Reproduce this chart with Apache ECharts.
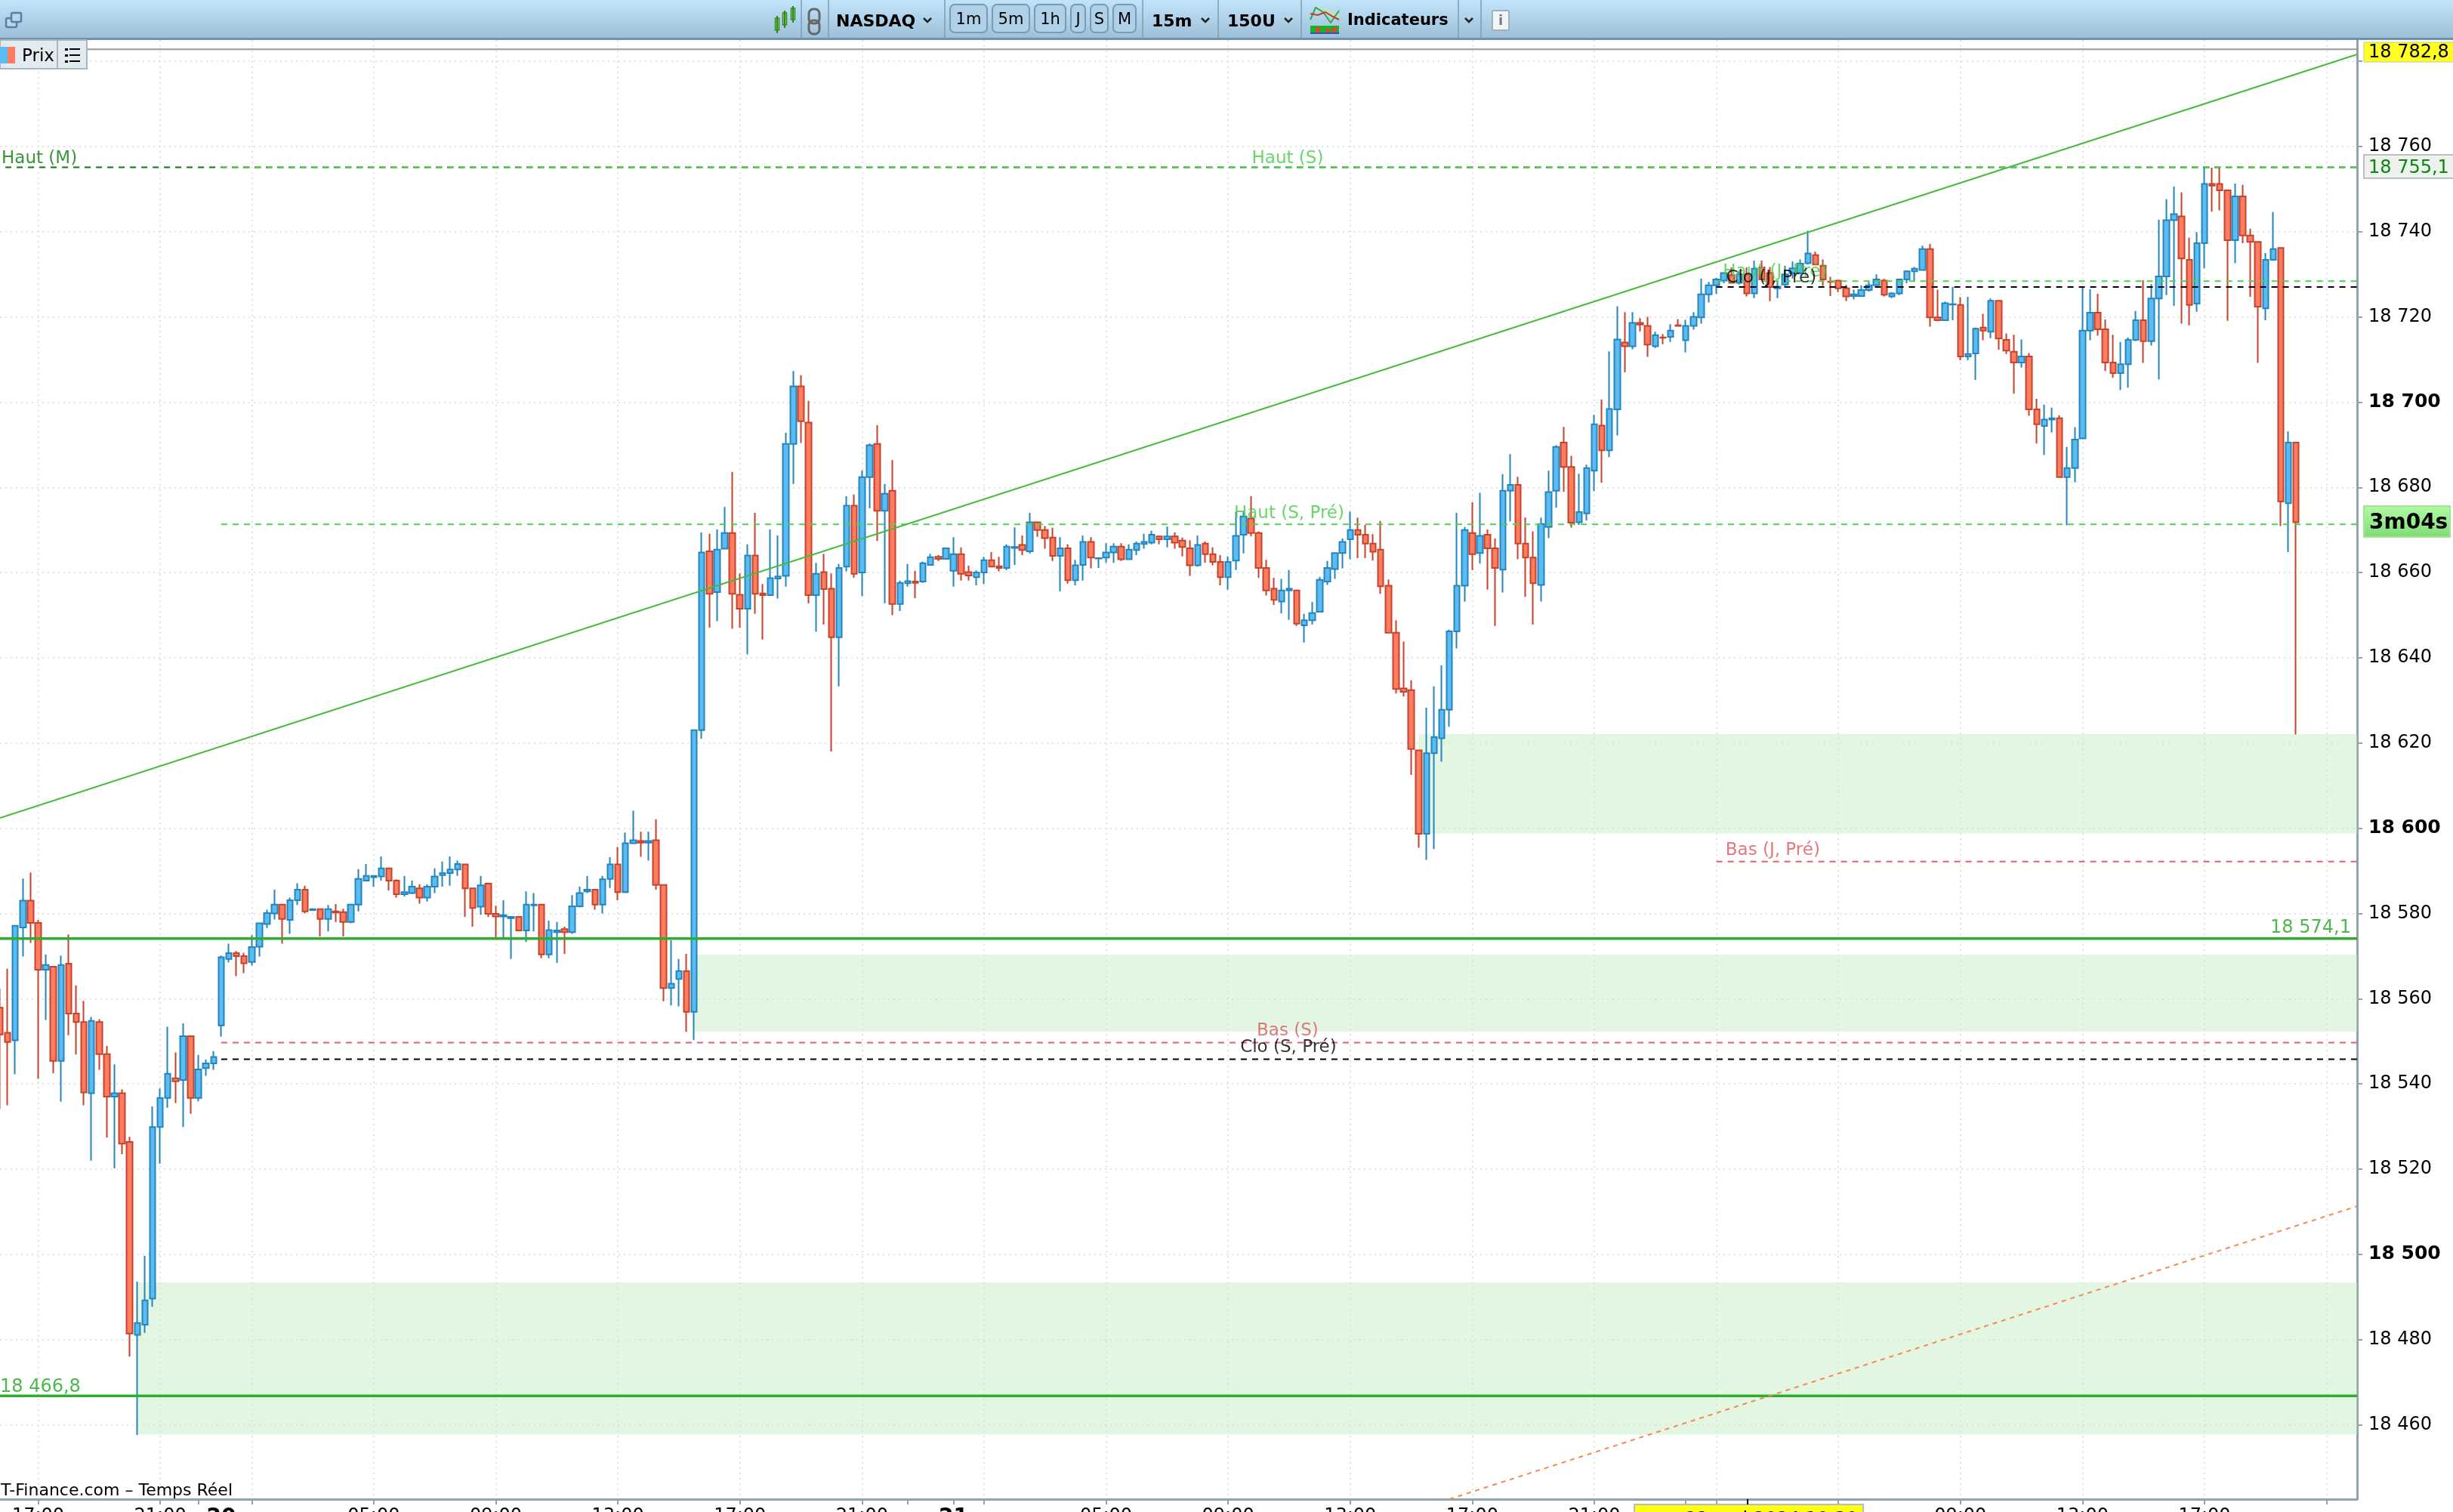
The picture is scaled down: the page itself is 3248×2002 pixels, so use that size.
<!DOCTYPE html>
<html><head><meta charset="utf-8">
<style>html,body{margin:0;padding:0;background:#fff;overflow:hidden}#c{width:3248px;height:2002px}</style>
<script src="https://cdn.jsdelivr.net/npm/echarts@6/dist/echarts.min.js"></script>
</head><body><div id="c"></div>
<script>
// each candle: [open, close, low, high]; x position is the index in the concatenated list
const candles0 = [
[18557.9,18551.6,18534.1,18562.4],[18552.0,18549.8,18535.0,18567.0],[18550.2,18577.1,18542.3,18577.1],[18576.7,18583.0,18569.9,18588.2],[18583.0,18577.8,18573.1,18589.6],
[18577.8,18566.8,18541.2,18578.5],[18566.8,18567.9,18555.0,18570.4],[18567.5,18545.4,18542.5,18567.5],[18545.4,18567.9,18535.8,18570.1],[18568.2,18556.5,18551.4,18575.1],
[18556.5,18554.5,18546.9,18563.1],[18554.5,18538.0,18535.0,18559.5],[18537.8,18554.8,18522.0,18555.7],[18554.5,18547.0,18543.3,18555.2],[18547.0,18537.0,18527.4,18548.9],
[18537.0,18537.8,18520.2,18544.6],[18537.8,18526.0,18523.5,18538.7],[18526.4,18481.4,18476.0,18527.6],[18481.1,18483.9,18457.6,18493.6],[18483.5,18489.2,18481.6,18499.6],
[18489.6,18529.9,18487.7,18534.7],[18529.9,18536.7,18521.3,18538.9],[18536.7,18542.4,18534.4,18553.4],[18541.3,18540.6,18535.5,18547.4],[18540.9,18551.2,18529.9,18554.2],
[18551.2,18536.7,18533.0,18551.2],[18536.7,18543.4,18535.9,18546.8],[18543.7,18544.8,18541.9,18545.7],[18544.8,18546.3,18543.3,18547.7]];
const candles1 = [
[18553.7,18569.7,18551.1,18570.1],[18569.3,18570.7,18568.5,18572.9],[18570.7,18570.0,18565.3,18571.2],[18570.0,18568.3,18566.0,18570.8],[18568.6,18572.1,18567.8,18574.9],
[18572.2,18577.7,18569.9,18577.7],[18577.5,18580.1,18576.6,18580.9],[18580.0,18582.1,18578.6,18585.6],[18582.1,18578.7,18572.9,18582.1],[18578.5,18583.1,18575.2,18583.7],
[18583.1,18585.6,18582.0,18587.1],[18585.6,18580.5,18580.0,18586.5],[18580.8,18581.0,18580.7,18581.1],[18581.0,18578.7,18574.6,18581.1],[18578.7,18581.0,18575.8,18582.0],
[18580.5,18580.2,18578.0,18582.2],[18580.3,18578.0,18574.6,18581.1],[18578.0,18582.1,18577.7,18582.2],[18582.1,18588.1,18580.5,18590.4],[18587.7,18588.8,18587.6,18591.6],
[18588.5,18588.8,18586.3,18588.8],[18588.7,18590.6,18587.7,18593.4],[18590.6,18587.7,18585.4,18590.6],[18587.7,18584.5,18583.7,18588.0],[18584.5,18585.0,18584.0,18588.8],
[18584.8,18586.3,18584.5,18587.7],[18585.9,18583.7,18582.3,18586.8],[18583.7,18586.3,18582.8,18586.8],[18586.3,18588.7,18584.8,18590.6],[18589.0,18589.5,18586.3,18592.2],
[18589.5,18590.3,18586.5,18593.4],[18590.3,18591.6,18588.8,18592.4],[18591.5,18585.9,18579.2,18591.5],[18585.9,18581.3,18576.9,18586.0],[18581.6,18586.6,18579.7,18588.8],
[18587.0,18579.9,18579.2,18587.2],[18579.9,18579.3,18573.9,18581.8],[18579.3,18579.6,18574.3,18583.1],[18578.9,18579.2,18569.3,18579.2],[18579.2,18576.0,18575.8,18579.2],
[18576.0,18582.1,18573.3,18585.2],[18581.9,18582.1,18575.8,18584.8],[18582.1,18570.4,18569.5,18582.1],[18570.4,18576.1,18569.5,18578.3],[18575.6,18576.0,18568.4,18578.0],
[18576.3,18575.6,18570.5,18576.9],[18575.6,18581.7,18575.2,18584.3],[18581.7,18584.8,18581.4,18586.3],[18585.2,18585.6,18584.8,18588.8],[18585.6,18582.1,18580.9,18585.6],
[18582.1,18588.0,18580.0,18588.8],[18588.1,18591.5,18586.0,18593.2],[18591.5,18585.0,18583.1,18595.6],[18585.0,18596.5,18584.8,18599.0],[18596.5,18597.2,18596.4,18604.1],
[18597.0,18596.6,18593.3,18599.2],[18596.6,18597.0,18592.4,18599.2],[18597.2,18586.7,18585.6,18602.1],[18586.7,18562.5,18559.4,18586.7],[18562.5,18563.5,18558.4,18573.7],
[18564.6,18566.5,18558.2,18569.3],[18566.5,18556.9,18552.2,18570.5],[18556.9,18623.0,18550.3,18623.0]];
const candles2 = [
[18623.0,18664.7,18621.0,18669.4],[18665.0,18655.0,18647.1,18669.1],[18655.4,18665.4,18648.6,18670.1],[18665.6,18669.3,18665.6,18675.4],[18669.3,18655.0,18646.8,18683.6],
[18654.8,18651.5,18647.1,18659.8],[18651.5,18664.0,18640.8,18666.6],[18664.0,18655.0,18650.3,18674.0],[18655.1,18654.7,18644.3,18657.3],[18654.7,18658.7,18654.7,18670.1],
[18658.6,18659.1,18653.9,18668.7],[18659.2,18690.2,18656.7,18692.8],[18690.2,18703.7,18680.8,18707.3],[18703.7,18695.5,18690.4,18706.3],[18695.2,18654.7,18652.8,18700.3],
[18654.7,18659.7,18646.1,18662.3],[18660.1,18656.1,18647.8,18664.4],[18656.2,18644.8,18618.0,18659.8],[18644.8,18661.1,18633.3,18662.0],[18661.4,18675.7,18660.3,18677.9],
[18675.7,18659.7,18658.8,18678.3],[18660.0,18682.4,18654.5,18684.0],[18682.4,18689.9,18675.1,18690.3],[18690.2,18674.5,18667.4,18694.6],[18674.5,18678.5,18652.8,18680.8],
[18679.2,18652.6,18650.0,18686.4],[18652.6,18657.6,18651.0,18658.1],[18657.5,18658.0,18656.7,18662.0],[18657.9,18657.6,18654.0,18660.4],[18657.9,18662.2,18657.6,18662.6],
[18661.8,18663.6,18661.7,18664.4],[18663.7,18663.2,18662.7,18664.1],[18663.2,18665.7,18663.2,18665.7],[18660.4,18664.3,18656.7,18668.3],[18664.3,18659.7,18658.1,18665.9],
[18660.1,18659.3,18658.1,18661.6],[18658.9,18660.0,18657.0,18660.5],[18660.0,18662.9,18657.3,18663.7],[18662.9,18661.4,18661.4,18664.8],[18661.5,18661.1,18660.3,18663.7],
[18661.1,18666.1,18660.6,18666.6],[18665.8,18666.0,18661.8,18670.6],[18666.5,18665.3,18664.1,18668.7],[18665.0,18671.8,18664.5,18674.0],[18671.8,18670.0,18668.4,18671.8],
[18670.0,18668.1,18665.6,18670.9],[18668.2,18663.9,18662.7,18670.5],[18663.9,18665.7,18655.6,18668.3],[18665.7,18658.2,18657.4,18666.6],[18658.2,18661.7,18657.0,18663.0],
[18661.8,18667.2,18658.1,18668.7],[18667.2,18663.5,18661.0,18668.3],[18663.3,18663.4,18661.1,18663.4],[18663.5,18664.7,18662.3,18666.9],[18664.7,18666.1,18662.3,18666.9],
[18666.1,18663.1,18662.7,18666.9],[18663.1,18665.4,18663.0,18666.6],[18665.3,18666.8,18664.1,18667.3],[18666.7,18667.2,18665.6,18669.1],[18667.0,18668.9,18666.6,18669.8],
[18668.5,18667.8,18666.6,18668.5],[18667.8,18668.5,18665.9,18670.8],[18668.5,18667.0,18665.6,18669.4],[18667.5,18666.0,18663.8,18668.2],[18665.7,18661.7,18659.2,18667.6],
[18661.7,18666.5,18661.4,18668.7],[18666.8,18664.3,18662.3,18667.3],[18664.3,18662.5,18661.7,18665.9],[18662.5,18658.9,18657.0,18664.1],[18658.9,18662.5,18656.0,18663.8],
[18662.8,18668.6,18660.6,18674.3]];
const candles3 = [
[18668.9,18673.2,18664.5,18674.3],[18672.7,18669.3,18668.5,18677.9],[18669.3,18661.1,18658.8,18669.7],[18661.1,18655.8,18654.6,18663.0],[18656.2,18653.6,18652.4,18658.8],
[18653.2,18655.8,18650.4,18658.5],[18655.8,18656.2,18648.9,18660.6],[18655.8,18648.0,18647.5,18655.8],[18647.6,18648.8,18643.6,18650.3],[18648.8,18650.5,18647.8,18653.1],
[18650.8,18658.3,18650.8,18659.0],[18657.9,18661.1,18657.1,18662.7],[18660.8,18664.6,18658.5,18664.6],[18664.6,18667.2,18661.0,18668.0],[18667.8,18670.0,18663.1,18674.3],
[18670.0,18668.9,18663.4,18672.9],[18668.9,18666.8,18663.4,18671.2],[18666.8,18664.9,18662.8,18669.0],[18665.4,18656.8,18655.0,18672.1],[18656.9,18645.9,18645.9,18658.4],
[18645.9,18632.7,18631.6,18648.8],[18632.8,18632.0,18630.9,18643.8],[18632.4,18618.6,18612.5,18634.7],[18618.3,18598.7,18595.4,18618.3],[18598.7,18617.6,18592.6,18628.3],
[18617.6,18621.4,18595.1,18633.3],[18621.1,18627.8,18615.6,18638.2],[18627.8,18646.2,18623.8,18646.6],[18646.2,18656.9,18642.2,18674.0],[18656.9,18670.0,18653.2,18670.7],
[18669.3,18664.3,18660.6,18676.5],[18664.6,18668.6,18662.1,18678.7],[18668.9,18665.7,18656.0,18670.1],[18665.7,18661.1,18647.5,18668.0],[18660.7,18679.2,18655.3,18683.1],
[18679.2,18680.6,18672.0,18687.8],[18680.6,18666.8,18663.1,18682.5],[18666.8,18663.5,18654.3,18672.9],[18663.5,18657.5,18647.8,18669.7],[18657.1,18671.4,18653.2,18672.9],
[18670.7,18678.9,18668.1,18683.9],[18679.2,18689.5,18675.2,18689.9],[18690.5,18684.8,18679.0,18694.2],[18684.8,18671.7,18670.5,18687.4],[18671.8,18674.2,18671.2,18683.2],
[18673.9,18684.5,18672.2,18685.3]];
const candles4 = [
[18683.9,18694.8,18679.1,18697.0],[18694.5,18688.7,18681.1,18700.6],[18688.7,18698.4,18687.1,18711.9],[18698.3,18714.7,18692.2,18722.5],[18714.0,18713.1,18707.0,18721.1],
[18713.1,18718.6,18712.4,18721.1],[18718.6,18718.2,18716.6,18719.7],[18717.9,18713.5,18710.6,18720.0],[18713.1,18715.7,18712.7,18716.5],[18715.2,18715.1,18713.6,18716.0],
[18715.3,18716.8,18714.1,18718.3],[18718.0,18717.9,18717.9,18719.5],[18714.5,18717.9,18711.7,18719.3],[18717.9,18720.0,18717.0,18721.1],[18719.9,18725.3,18718.4,18729.0],
[18725.3,18727.4,18723.4,18728.2],[18727.4,18728.8,18725.4,18729.2],[18728.5,18730.3,18727.9,18730.4],[18729.8,18728.0,18727.9,18731.6],[18728.0,18730.0,18727.6,18730.6],
[18730.0,18725.5,18724.8,18731.6],[18725.5,18731.3,18724.4,18733.2],[18731.6,18728.8,18728.8,18733.2],[18730.3,18727.0,18723.7,18731.7],[18726.7,18727.1,18724.4,18728.2],
[18727.6,18730.0,18727.0,18732.0],[18730.3,18731.4,18729.0,18733.0],[18730.3,18732.5,18730.0,18733.5],[18732.6,18734.9,18732.3,18740.2],[18734.5,18732.3,18732.2,18735.3],
[18732.0,18728.8,18727.3,18733.5],[18728.3,18728.2,18724.9,18729.4],[18728.5,18726.7,18725.8,18728.5],[18726.7,18724.8,18723.7,18727.5],[18724.9,18725.3,18724.1,18726.4],
[18724.9,18726.3,18724.8,18727.4],[18726.3,18727.4,18725.9,18728.2],[18727.4,18728.8,18727.3,18730.0],[18728.5,18725.2,18724.8,18728.9],[18724.8,18725.5,18724.4,18725.8],
[18725.5,18728.8,18725.1,18729.0],[18728.8,18730.7,18727.9,18730.9],[18730.7,18731.3,18728.3,18731.7],[18731.0,18735.9,18730.9,18736.7],[18735.9,18719.9,18717.7,18737.1],
[18719.9,18719.2,18719.0,18726.4],[18719.2,18723.2,18719.1,18723.6],[18722.9,18723.0,18719.2,18727.0]];
const candles5 = [
[18722.8,18710.7,18709.8,18724.6],[18710.7,18711.3,18709.8,18724.7],[18711.4,18717.2,18705.2,18717.5],[18717.5,18716.8,18714.5,18720.7],[18716.5,18723.8,18715.0,18724.3],
[18723.8,18714.9,18712.3,18723.8],[18714.6,18712.1,18711.3,18716.1],[18711.8,18709.3,18702.0,18715.8],[18709.3,18710.7,18708.1,18714.7],[18710.7,18698.3,18696.8,18711.5],
[18698.3,18694.8,18690.3,18700.8],[18694.4,18695.9,18687.6,18699.4],[18695.9,18696.2,18692.9,18698.7],[18696.2,18682.4,18682.4,18696.9],[18682.4,18684.5,18671.1,18689.5],
[18684.5,18691.2,18681.2,18694.1],[18691.5,18716.8,18691.5,18727.2],[18716.8,18721.0,18714.5,18726.5],[18721.0,18717.1,18715.6,18725.4],[18717.1,18709.3,18707.3,18719.4],
[18709.3,18706.8,18705.7,18715.8],[18706.8,18708.9,18702.8,18714.1],[18708.9,18714.6,18703.4,18715.2],[18714.6,18719.2,18714.3,18721.4],[18719.2,18714.3,18709.2,18728.6],
[18714.3,18724.3,18713.3,18727.7],[18724.3,18729.5,18705.3,18742.8],[18729.5,18742.7,18725.1,18747.6],[18742.7,18744.1,18722.6,18750.6],[18743.6,18733.7,18718.4,18749.2],
[18733.4,18722.8,18718.0,18738.6],[18723.1,18737.3,18721.2,18739.9],[18737.3,18751.2,18731.4,18755.0],[18751.2,18750.8,18744.7,18755.0],[18751.2,18749.7,18745.0,18755.0],
[18749.7,18738.0,18719.1,18749.7],[18738.0,18748.3,18732.6,18751.3],[18748.3,18739.1,18737.3,18751.0],[18739.1,18737.6,18724.7,18740.7],[18737.6,18722.4,18709.2,18737.6],
[18722.0,18733.4,18719.2,18735.0],[18733.4,18735.9,18733.3,18744.6],[18736.2,18676.7,18670.9,18736.2],[18676.3,18690.5,18664.8,18693.1],[18690.5,18671.8,18622.0,18690.5]];

const priceTicks = [18460,18480,18500,18520,18540,18560,18580,18600,18620,18640,18660,18680,18700,18720,18740,18760];
const gridTimeIdx = [5,21,33,49,65,81,97,113,129,145,161,177,193,209,225,241,257,273,289,305];
const minorTimeIdx = [26,119,125,221];
const timeLabelIdx = [5,21,29,49,65,81,97,113,125,145,161,177,193,209,257,273,289];
const timeLabelText = ['17:00','21:00','20','05:00','09:00','13:00','17:00','21:00','21','05:00','09:00','13:00','17:00','21:00','09:00','13:00','17:00'];

const solidLevels = [18574.1,18466.8];
const bandFromIdx = [18,91,186];
const bandTop = [18493.4,18570.3,18622.1];
const bandBottom = [18457.7,18552.3,18598.8];
const refLevelNames = ['Haut (M)','Haut (S)','Haut (S, Pré)','Bas (S)','Clo (S, Pré)','Bas (J, Pré)','Haut (J, Pré)','Clo (J, Pré)'];
const refLevelValues = [18755.1,18755.1,18671.3,18549.7,18545.8,18592.2,18728.4,18727.0];
const refLevelFrom = [0.7,29,29,29,29,225,225,225];
const lastHigh = 18782.8;
const supportTrend = [[0,18602.4],[309,18781.6]];
const lowerTrend = [[190,18442.55],[309,18511.3]];

const noteTexts = ['Haut (M)','Haut (S)','Haut (S, Pré)','Bas (S)','Clo (S, Pré)','Bas (J, Pré)','Haut (J, Pré)','Clo (J, Pré)','18 574,1','18 466,8'];
const noteX = [0.2,168.8,169,168.8,168.9,232.4,232.7,232.2,308.2,0];
const noteY = [18757.1,18757.1,18673.9,18552.5,18548.5,18594.8,18730.6,18729.2,18576.5,18468.8];

const candles = [].concat(candles0,candles1,candles2,candles3,candles4,candles5);
const GREEN='#4ed24e', DGREEN='#077a07', RED='#e0626a', BLACK='#000', SOLID='#2eae2e';
const levelColor=[DGREEN,GREEN,GREEN,RED,BLACK,RED,GREEN,BLACK];
const noteColor=[DGREEN,'#45cc45','#45cc45','#dd5560',BLACK,'#dd5560','#45cc45',BLACK,'#22a522','#22a522'];
const noteAlign=['left','center','center','center','center','center','center','center','right','left'];
const noteSize=[23,23,23,23,23,23,23,23,24,24];
const FONT='"DejaVu Sans"';
const fmt=v=>String(v).replace(/^(\d\d)(\d{3})/,'$1 $2');
const chart=echarts.init(document.getElementById('c'),null,{renderer:'canvas'});

const series=[
 {type:'line',name:'zones',data:[],z:1,silent:true,
  markArea:{silent:true,z:1,itemStyle:{color:'rgba(198,237,198,0.5)'},
   data:bandFromIdx.map((x,k)=>[{coord:[x,bandTop[k]]},{coord:[309,bandBottom[k]]}])}},
 {type:'candlestick',name:'Prix',z:3,barWidth:8,
  encode:{x:0,y:[1,2,3,4]},
  data:candles.map((c,i)=>[i,c[0],c[1],c[2],c[3]]),
  itemStyle:{color:'#5bbcf3',color0:'#fe7c60',borderColor:'#2385be',borderColor0:'#c5432a',borderWidth:2}}
];
refLevelNames.forEach((n,k)=>series.push({type:'line',name:n,symbol:'none',z:4,silent:true,animation:false,
 data:[[refLevelFrom[k],refLevelValues[k]],[309,refLevelValues[k]]],
 lineStyle:{color:levelColor[k],width:2,type:[8,7]}}));
solidLevels.forEach(v=>series.push({type:'line',symbol:'none',z:4,silent:true,
 data:[[0,v],[309,v]],lineStyle:{color:SOLID,width:3.5}}));
series.push({type:'line',symbol:'none',z:2,silent:true,data:[[0,lastHigh],[309,lastHigh]],lineStyle:{color:'#999',width:2}});
series.push({type:'line',symbol:'none',z:4,silent:true,data:supportTrend,lineStyle:{color:'#44bb3c',width:2}});
series.push({type:'line',symbol:'none',z:4,silent:true,data:lowerTrend,lineStyle:{color:'#f58a4b',width:2,type:[6,6]}});
series.push({type:'scatter',symbolSize:0,z:6,silent:true,
 data:noteTexts.map((t,k)=>({value:[noteX[k],noteY[k]],
  label:{show:true,position:[0,0],formatter:t,color:noteColor[k],align:noteAlign[k],verticalAlign:'middle',fontFamily:FONT,fontSize:noteSize[k]}}))});

const G=[];
const rect=(x,y,w,h,fill,stroke,r,lw)=>G.push({type:'rect',z:100,shape:{x,y,width:w,height:h,r:r||0},style:{fill:fill||'transparent',stroke:stroke||null,lineWidth:lw||1}});
const txt=(s,x,y,font,fill,align)=>G.push({type:'text',z:101,style:{text:s,x,y,font,fill:fill||'#000',textAlign:align||'left',textVerticalAlign:'middle'}});
const line=(x1,y1,x2,y2,c,w)=>G.push({type:'line',z:101,shape:{x1,y1,x2,y2},style:{stroke:c,lineWidth:w||2}});
const poly=(pts,c,w)=>G.push({type:'polyline',z:101,shape:{points:pts},style:{stroke:c,lineWidth:w||2,fill:null}});
const grad=(a,b)=>new echarts.graphic.LinearGradient(0,0,0,1,[{offset:0,color:a},{offset:1,color:b}]);
const chev=(x,y)=>poly([[x,y],[x+5,y+5],[x+10,y]],'#222',2.5);

// toolbar
rect(0,0,3248,51,grad('#c0e4fb','#9dbfd8'));
rect(0,50,3248,3,'#6f92ab');
[1061,1097,1251,1513,1613,1723,1931,1961].forEach(x=>line(x,0,x,51,'#7f9db3',1.5));
rect(8,24,14,12,'#b4d6ee','#5d7f99',2,2.5); rect(15,17,13,12,'#b4d6ee','#5d7f99',2,2.5);
[[1029,24,16],[1039,17,16],[1050,11,15]].forEach(a=>{line(a[0],a[1]-3,a[0],a[1]+a[2]+4,'#2d8a16',2);rect(a[0]-2.5,a[1],5,a[2],'#a9d28e','#2d8a16',0,1.5);});
rect(1071,12,14,19,null,'#666',6,3); rect(1071,27,14,18,null,'#666',6,3);
[[1258,49],[1314,49],[1370,41],[1418,19],[1444,23],[1474,30]].forEach(a=>rect(a[0],6,a[1],37,'#aed0e8','#7b9bb3',6,2));
txt('NASDAQ',1107,29,'bold 22px '+FONT); chev(1223,24);
[['1m',1282.5],['5m',1338.5],['1h',1390.5],['J',1427.5],['S',1455.5],['M',1489]].forEach(a=>txt(a[0],a[1],27,'21px '+FONT,'#000','center'));
txt('15m',1525,29,'bold 22px '+FONT); chev(1591,24);
txt('150U',1625,29,'bold 22px '+FONT); chev(1701,24);
G.push({type:'polygon',z:101,shape:{points:[[1736,8],[1745,10],[1765,24],[1773,26],[1773,20],[1760,12],[1748,10]]},style:{fill:'#bfe3c0'}});
poly([[1735,26],[1742,10],[1752,16],[1762,30],[1773,14]],'#35a845',2);
poly([[1735,18],[1745,20],[1755,16],[1765,22],[1773,26]],'#c0392b',2);
rect(1735,34,38,9,'#10b81f'); [[1744,36],[1757,38],[1766,36]].forEach(a=>rect(a[0]-2,a[1],6,7,'#d43'));
rect(1735,43,38,2,'#2459c8');
txt('Indicateurs',1784,28,'bold 21px '+FONT); chev(1940,24);
rect(1976,14,22,26,'#f2f4f5','#9fb0bd',1,2); txt('i',1987,28,'bold 18px '+FONT,'#778','center');
// price pane tab
rect(0,53,76,38,'#e3ebf0','#a8b6bf',0,2); rect(76,53,39,38,'#e3ebf0','#a8b6bf',0,2);
rect(0,62,10,22,'#5bbcf3'); rect(10,62,10,22,'#fe7c60');
txt('Prix',29,75,'23px '+FONT);
[65,73,81].forEach(y=>{rect(86,y-1,4,3,'#000');line(92,y,106,y,'#000',2);});
// footer
txt('IT-Finance.com – Temps Réel',308,1974,'22px '+FONT,'#000','right');
// price tags
rect(3130,56,130,26,'#ffff20','#c8c8a0',0,1); txt('18 782,8',3136,70,'24px '+FONT);
rect(3130,205,130,31,'#eef1ee','#b7c0c4',0,2); txt('18 755,1',3136,223,'24px '+FONT,'#0a8a0a');
rect(3130,670,114,41,grad('#b2fba4','#7fdc76'),'#a2e59a',0,2); txt('3m04s',3137,693,'bold 28px '+FONT);
// cursor date tag
line(2314,1985,2314,1992,'#000',2);
rect(2164,1992,303,14,'#ffff14','#b5bcc6',0,2);
txt('mer. 22 mai 2024 10:30',2315,2013,'24px '+FONT,'#000','center');

chart.setOption({
 animation:false,
 grid:{left:0,top:53,width:3121,height:1932,containLabel:false,outerBoundsMode:'none'},
 xAxis:[
  {type:'value',min:0,max:309,position:'bottom',
   axisLine:{show:true,onZero:false,lineStyle:{color:'#93a3ab',width:3}},
   axisTick:{show:true,length:7,customValues:gridTimeIdx,lineStyle:{color:'#93a3ab',width:2}},
   splitLine:{show:true,lineStyle:{color:'#e3e3e3',width:2,type:[2,5]}},
   axisLabel:{show:true,customValues:timeLabelIdx,margin:11,fontFamily:FONT,fontSize:24,color:'#000',
     formatter:v=>{const k=timeLabelIdx.indexOf(v);const t=timeLabelText[k]||'';return t.length===2?'{d|'+t+'}':t;},
     rich:{d:{fontFamily:FONT,fontSize:28,fontWeight:'bold',color:'#000',padding:[0,0,6,0]}}}},
  {type:'value',min:0,max:309,position:'bottom',
   axisLine:{show:false},axisLabel:{show:false},splitLine:{show:false},
   axisTick:{show:true,length:7,customValues:minorTimeIdx,lineStyle:{color:'#93a3ab',width:2}}}
 ],
 yAxis:{type:'value',position:'right',min:18442.55,max:18784.97,scale:true,
  axisLine:{show:true,onZero:false,lineStyle:{color:'#93a3ab',width:3}},
  axisTick:{show:true,length:7,customValues:priceTicks.concat([18780]),lineStyle:{color:'#93a3ab',width:2}},
  splitLine:{show:true,lineStyle:{color:'#e3e3e3',width:2,type:[2,5]}},
  axisLabel:{show:true,customValues:priceTicks,margin:15,color:'#000',fontFamily:FONT,fontSize:24,align:'left',
    formatter:v=>v%100===0?'{b|'+fmt(v)+'}':fmt(v),
    rich:{b:{fontFamily:FONT,fontSize:25,fontWeight:'bold',color:'#000'}}}},
 series,
 graphic:{elements:G}
});
</script></body></html>
